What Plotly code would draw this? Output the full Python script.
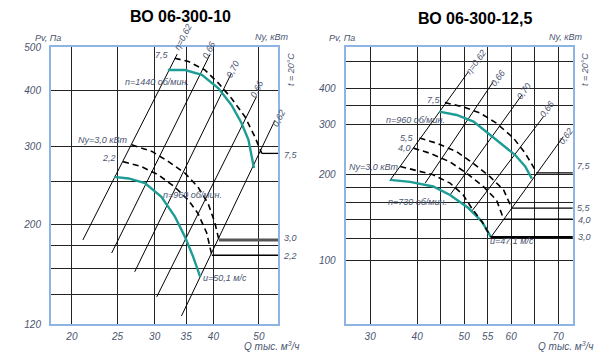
import math
import plotly.graph_objects as go

# ---------------- data: ВО 06-300-10 ----------------
L_x_ticks = [20, 25, 30, 35, 40, 50]
L_y_grid = [120, 140, 160, 180, 200, 250, 300, 400, 500]
L_y_text = ["120", "", "", "", "200", "", "300", "400", "500"]

L_teal_1440_q = [32.0, 34.8, 37.8, 41.0, 43.7, 45.9, 47.5, 48.8]
L_teal_1440_p = [444, 444, 433, 404, 371, 338, 310, 268]
L_teal_960_q = [24.6, 26.4, 28.6, 31.0, 33.1, 34.8, 36.2, 37.5]
L_teal_960_p = [256, 254, 248, 231, 209, 188, 170, 153]

L_ny75_q = [33.1, 35.4, 38.4, 41.0, 43.7, 46.7, 49.0, 50.7, 56.0]
L_ny75_p = [472, 464, 444, 415, 384, 349, 315, 289, 289]
L_ny30_q = [26.8, 29.6, 32.1, 34.8, 37.1, 39.0, 40.3, 41.1, 56.0]
L_ny30_p = [302, 292, 277, 261, 243, 223, 202, 185, 185]
L_ny22_q = [25.7, 28.1, 30.5, 33.1, 35.4, 37.1, 38.7, 39.7, 56.0]
L_ny22_p = [277, 270, 259, 243, 227, 212, 192, 171, 171]

# efficiency rays (bottom, top)
L_eta_q = [[21.1, 33.5], [24.3, 39.3], [27.2, 43.7], [30.3, 49.4], [34.2, 54.1]]
L_eta_p = [[185, 482], [173, 480], [157, 437], [138, 387], [125, 343]]
L_eta_lbl = ["η=0,62", "0,66", "0,70", "0,66", "0,62"]

# ---------------- data: ВО 06-300-12,5 ----------------
R_x_grid = [30, 40, 45, 50, 55, 60, 65, 70]
R_x_text = ["30", "40", "", "50", "55", "60", "", "70"]
R_y_grid = [100, 120, 140, 160, 180, 200, 300, 350, 400, 500]
R_y_text = ["100", "", "", "", "", "200", "300", "", "400", ""]

R_teal_960_q = [44.7, 48.4, 52.0, 55.5, 58.4, 60.8, 63.0, 64.4]
R_teal_960_p = [333, 324, 307, 276, 254, 235, 214, 194]
R_teal_730_q = [34.2, 38.5, 43.4, 47.0, 50.9, 53.8, 55.7]
R_teal_730_p = [192, 189, 182, 170, 153, 137, 121]

R_ny75_q = [45.9, 49.8, 53.4, 56.9, 60.5, 63.0, 65.5, 75.0]
R_ny75_p = [358, 346, 329, 303, 269, 238, 203, 203]
R_ny55_q = [40.5, 44.2, 48.4, 52.0, 55.5, 58.4, 60.1, 75.0]
R_ny55_p = [269, 258, 241, 219, 197, 177, 153, 153]
R_ny40_q = [39.2, 42.7, 47.0, 50.6, 54.1, 56.9, 58.4, 75.0]
R_ny40_p = [248, 238, 222, 202, 182, 163, 140, 140]
R_ny30_q = [36.4, 39.2, 43.4, 47.0, 49.8, 51.6, 53.8, 55.7]
R_ny30_p = [214, 208, 200, 187, 170, 153, 137, 121]
R_ny30_tail_q = [55.7, 75.0]
R_ny30_tail_p = [121, 121]

R_eta_q = [[34.2, 50.9], [41.7, 56.2], [47.0, 62.3], [51.6, 66.9], [55.7, 71.1]]
R_eta_p = [[191, 459], [187, 424], [170, 381], [149, 320], [121, 272]]
R_eta_lbl = ["η=0,62", "0,66", "0,70", "0,66", "0,62"]

# ---------------- styling ----------------
# page body has an 8px margin: the figure starts at (8, 8) in the window
OFF = 8
W, H = 609 - OFF, 357 - OFF
FONT = "Liberation Sans, Arial, sans-serif"
TXT = "#4b5570"
TEAL = "#1e9c96"
FRAME = "#8db4e2"
GRID = "#222222"


def fx(px):
    return (px - OFF) / W


def fy(py):
    return 1 - (py - OFF) / H


fig = go.Figure()


def line(x, y, xa, ya, color="black", width=1, dash="solid"):
    fig.add_trace(go.Scatter(x=x, y=y, mode="lines", xaxis=xa, yaxis=ya,
                             line=dict(color=color, width=width, dash=dash),
                             hoverinfo="skip", showlegend=False))


DASH = "6px,4px"
# left chart
for q, p in zip(L_eta_q, L_eta_p):
    line(q, p, "x", "y", width=1)
line(L_ny75_q[:-1], L_ny75_p[:-1], "x", "y", width=1.6, dash=DASH)
line(L_ny75_q[-2:], L_ny75_p[-2:], "x", "y", width=1.3)
line(L_ny30_q[:-1], L_ny30_p[:-1], "x", "y", width=1.6, dash=DASH)
line(L_ny30_q[-2:], L_ny30_p[-2:], "x", "y", color="#555", width=3)
line(L_ny22_q[:-1], L_ny22_p[:-1], "x", "y", width=1.6, dash=DASH)
line(L_ny22_q[-2:], L_ny22_p[-2:], "x", "y", width=1.3)
line(L_teal_1440_q, L_teal_1440_p, "x", "y", color=TEAL, width=2.4)
line(L_teal_960_q, L_teal_960_p, "x", "y", color=TEAL, width=2.4)

# right chart
for q, p in zip(R_eta_q, R_eta_p):
    line(q, p, "x2", "y2", width=1)
for q, p in [(R_ny75_q, R_ny75_p), (R_ny55_q, R_ny55_p), (R_ny40_q, R_ny40_p)]:
    line(q[:-1], p[:-1], "x2", "y2", width=1.6, dash=DASH)
    line(q[-2:], p[-2:], "x2", "y2", width=1.2)
line(R_teal_960_q, R_teal_960_p, "x2", "y2", color=TEAL, width=2.4)
line(R_teal_730_q, R_teal_730_p, "x2", "y2", color=TEAL, width=2.4)
line(R_ny30_q, R_ny30_p, "x2", "y2", width=1.6, dash=DASH)
line(R_ny30_tail_q, R_ny30_tail_p, "x2", "y2", width=2.4)

# ---------------- axes ----------------
tickfont = dict(family=FONT, size=10, color=TXT, style="italic")
common = dict(showgrid=True, gridcolor=GRID, gridwidth=1, showline=True,
              linecolor=FRAME, linewidth=2, mirror=True, zeroline=False,
              ticks="", tickfont=tickfont, tickmode="array", automargin=False)

ydom = [fy(324), fy(47)]
fig.update_layout(
    xaxis=dict(type="log", domain=[fx(51), fx(278)], anchor="y",
               range=[math.log10(18.05), math.log10(54.9)],
               tickvals=L_x_ticks, ticktext=[str(v) for v in L_x_ticks],
               ticklabelstandoff=2, **common),
    yaxis=dict(type="log", domain=ydom, anchor="x",
               range=[math.log10(120), math.log10(500)],
               tickvals=L_y_grid, ticktext=L_y_text, ticklabelstandoff=6, **common),
    xaxis2=dict(type="linear", domain=[fx(345.7), fx(572.7)], anchor="y2",
                range=[24.79, 73.1], tickvals=R_x_grid, ticktext=R_x_text,
                ticklabelstandoff=2, **common),
    yaxis2=dict(type="log", domain=ydom, anchor="x2",
                range=[math.log10(60.05), math.log10(560.6)],
                tickvals=R_y_grid, ticktext=R_y_text, ticklabelstandoff=6, **common),
)

# ---------------- text ----------------
anns = []


def txt(s, px, py, size=9, angle=0, color=TXT, italic=True, bold=False, xanchor="center"):
    anns.append(dict(text=s, x=fx(px), y=fy(py), xref="paper", yref="paper",
                     showarrow=False, textangle=angle, xanchor=xanchor, yanchor="middle",
                     font=dict(family=FONT, size=size, color=color,
                               style="italic" if italic else "normal",
                               weight="bold" if bold else "normal")))


# left chart texts
txt("ВО 06-300-10", 180, 17, size=16, color="black", italic=False, bold=True)
txt("Pv, Па", 48, 38)
txt("Ny, кВт", 272, 37)
txt("t = 20°С", 291, 70, angle=-90)
txt("7,5", 162, 55)
txt("n=1440 об/мин.", 157, 82)
txt("Ny=3,0 кВт", 103, 140)
txt("2,2", 109, 158)
txt("n=960 об/мин.", 192, 195)
txt("u=50,1 м/с", 225, 278)
txt("7,5", 291, 155)
txt("3,0", 290, 238)
txt("2,2", 290, 256)
for s, (px, py) in zip(L_eta_lbl, [(183, 37), (209, 50), (233, 69), (257, 89), (279, 118)]):
    txt(s, px, py, angle=-63)
txt("Q тыс. м<sup>3</sup>/ч", 272, 346, size=10)

# right chart texts
txt("ВО 06-300-12,5", 475, 18, size=16, color="black", italic=False, bold=True)
txt("Pv, Па", 342, 38)
txt("Ny, кВт", 566, 37)
txt("t = 20°С", 585, 70, angle=-90)
txt("7,5", 434, 100)
txt("n=960 об/мин.", 416, 120)
txt("5,5", 407, 138)
txt("4,0", 404, 148)
txt("Ny=3,0 кВт", 374, 167)
txt("n=730 об/мин.", 418, 202)
txt("u=47,1 м/с", 512, 241)
txt("7,5", 584, 166)
txt("5,5", 584, 208)
txt("4,0", 584, 220)
txt("3,0", 584, 237)
for s, (px, py) in zip(R_eta_lbl, [(476, 62), (498, 78), (524, 91), (547, 109), (566, 136)]):
    txt(s, px, py, angle=-54)
txt("Q тыс. м<sup>3</sup>/ч", 566, 346, size=10)

fig.update_layout(width=W, height=H, margin=dict(l=0, r=0, t=0, b=0),
                  paper_bgcolor="white", plot_bgcolor="white",
                  showlegend=False, annotations=anns)

fig.write_html("out.html")
